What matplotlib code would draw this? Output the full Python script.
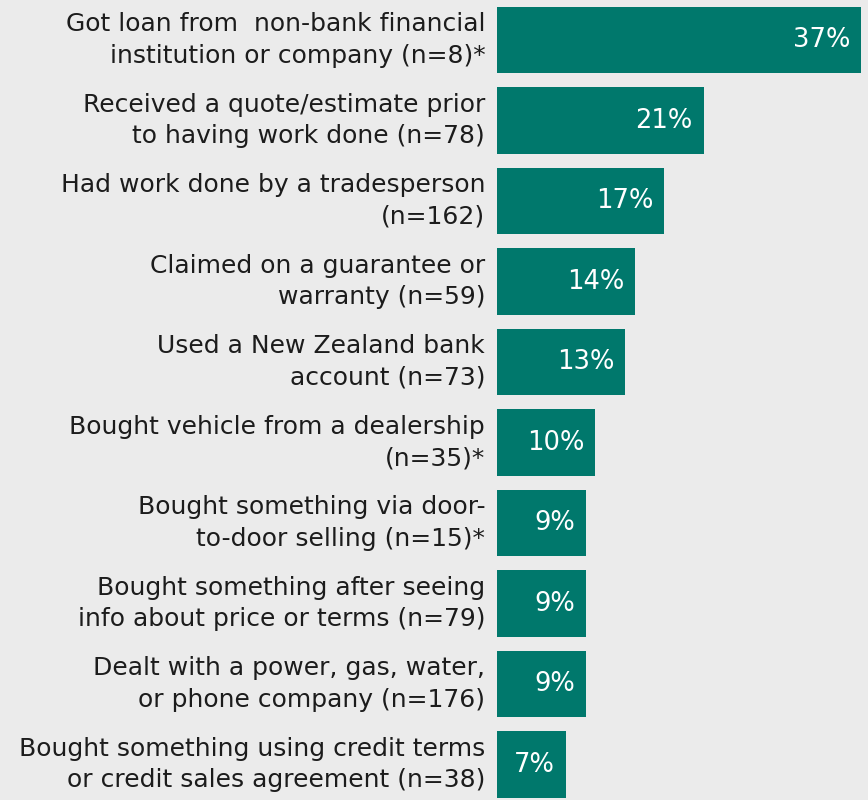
import matplotlib
matplotlib.use("Agg")
import matplotlib.pyplot as plt

categories = [
    "Got loan from  non-bank financial\ninstitution or company (n=8)*",
    "Received a quote/estimate prior\nto having work done (n=78)",
    "Had work done by a tradesperson\n(n=162)",
    "Claimed on a guarantee or\nwarranty (n=59)",
    "Used a New Zealand bank\naccount (n=73)",
    "Bought vehicle from a dealership\n(n=35)*",
    "Bought something via door-\nto-door selling (n=15)*",
    "Bought something after seeing\ninfo about price or terms (n=79)",
    "Dealt with a power, gas, water,\nor phone company (n=176)",
    "Bought something using credit terms\nor credit sales agreement (n=38)",
]
values = [37, 21, 17, 14, 13, 10, 9, 9, 9, 7]

BG = "#ebebeb"
BAR = "#00786c"
plt.rcParams["font.family"] = ["DejaVu Sans"]

fig = plt.figure(figsize=(8.68, 8.0), dpi=100, facecolor=BG)
ax = fig.add_axes([497 / 868, 0.0, 1 - 497 / 868, 1.0])
ax.set_facecolor(BG)

ypos = list(range(len(values)))
ax.barh(ypos, values, height=0.83, color=BAR)
ax.set_xlim(0, 37.7)
ax.set_ylim(9.44, -0.497)

for y, v, lab in zip(ypos, values, categories):
    ax.text(v - 1.1, y, f"{v}%", ha="right", va="center", color="white",
            fontsize=18.5)
    ax.text(-1.2, y, lab, ha="right", va="center", color="#1c1c1c",
            fontsize=18, linespacing=1.38)

ax.axis("off")
fig.savefig("out.png", dpi=100, facecolor=BG)
